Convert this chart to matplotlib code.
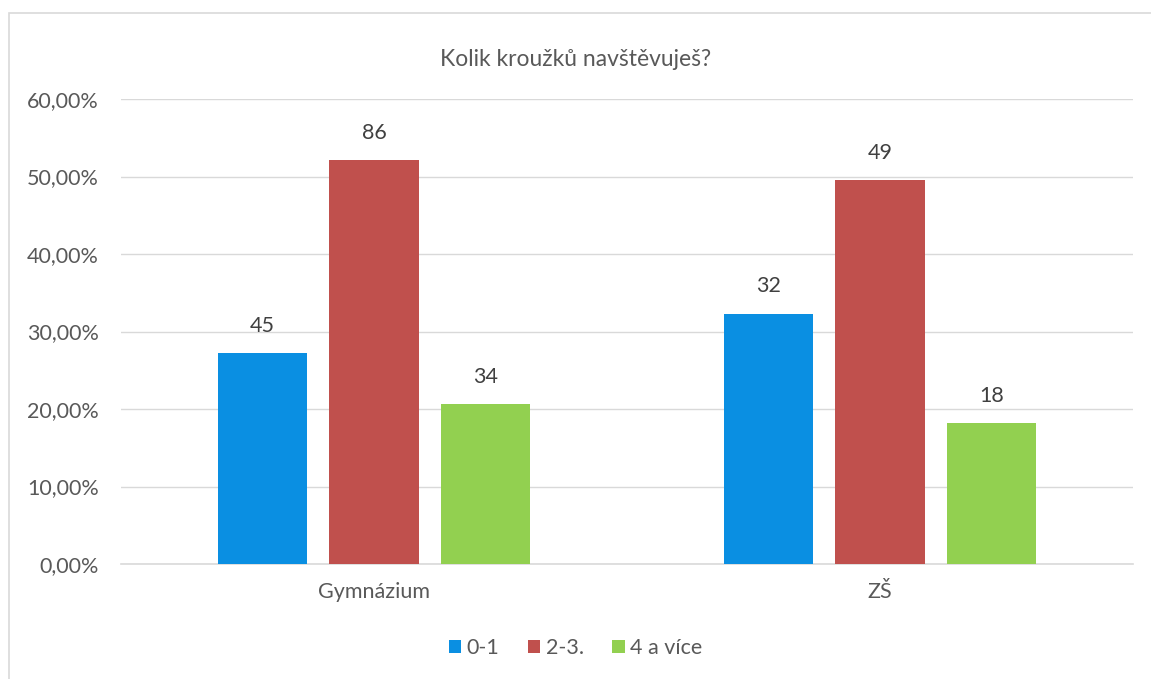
import matplotlib.pyplot as plt
import matplotlib.patches as mpatches
from matplotlib.ticker import FuncFormatter
import numpy as np

# Data
categories = ['Gymnázium', 'ZŠ']
series = ['0-1', '2-3.', '4 a více']
counts = {
    '0-1': [45, 32],
    '2-3.': [86, 49],
    '4 a více': [34, 18],
}
# share within each school
shares = {
    '0-1': [0.2727, 0.3232],
    '2-3.': [0.5212, 0.4949],
    '4 a více': [0.2061, 0.1818],
}
colors = ['#0A8FE2', '#C0504D', '#92D050']
text_col = '#595959'

plt.rcParams['font.family'] = ['Lato', 'DejaVu Sans']

fig = plt.figure(figsize=(11.51, 6.79), dpi=100)
# chart border (left and top visible only)
fig.patches.append(mpatches.Rectangle((9/1151, -0.1), 1.2, 1.1 - 13/679,
                                      transform=fig.transFigure, fill=False,
                                      edgecolor='#d9d9d9', linewidth=1.2))

ax = fig.add_axes([121/1151, 1 - 564/679, (1133 - 121)/1151, (564 - 99)/679])

x = np.arange(len(categories))
width = 0.176
step = 0.221
for i, name in enumerate(series):
    pos = x + (i - 1) * step
    bars = ax.bar(pos, shares[name], width, color=colors[i], label=name, zorder=3)
    for b, c in zip(bars, counts[name]):
        ax.annotate(str(c), (b.get_x() + b.get_width() / 2, b.get_height()),
                    xytext=(0, 19.5), textcoords='offset points', ha='center',
                    va='center', fontsize=15.5, color='#404040')

ax.set_xlim(-0.5, 1.5)
ax.set_ylim(0, 0.6)
ax.set_yticks(np.arange(0, 0.61, 0.1))
ax.yaxis.set_major_formatter(FuncFormatter(lambda v, p: f'{v*100:.2f}%'.replace('.', ',')))
ax.set_xticks(x)
ax.set_xticklabels(categories)
ax.grid(axis='y', color='#d9d9d9', linewidth=1, zorder=0)
for s in ['top', 'right', 'left']:
    ax.spines[s].set_visible(False)
ax.spines['bottom'].set_color('#d9d9d9')
ax.spines['bottom'].set_linewidth(1.2)
ax.tick_params(axis='both', length=0, labelsize=15.5, colors=text_col)
ax.tick_params(axis='y', pad=16)
ax.tick_params(axis='x', pad=13)

fig.text(0.5, 1 - 60/679, 'Kolik kroužků navštěvuješ?', ha='center', va='center',
         fontsize=16.5, color=text_col)

leg = fig.legend(loc='center', bbox_to_anchor=(0.5, 1 - 648/679), ncol=3,
                 frameon=False, fontsize=15.5, handlelength=0.6, handleheight=0.6,
                 handletextpad=0.25, columnspacing=1.3)
for t in leg.get_texts():
    t.set_color(text_col)

fig.savefig('out.png', dpi=100)
